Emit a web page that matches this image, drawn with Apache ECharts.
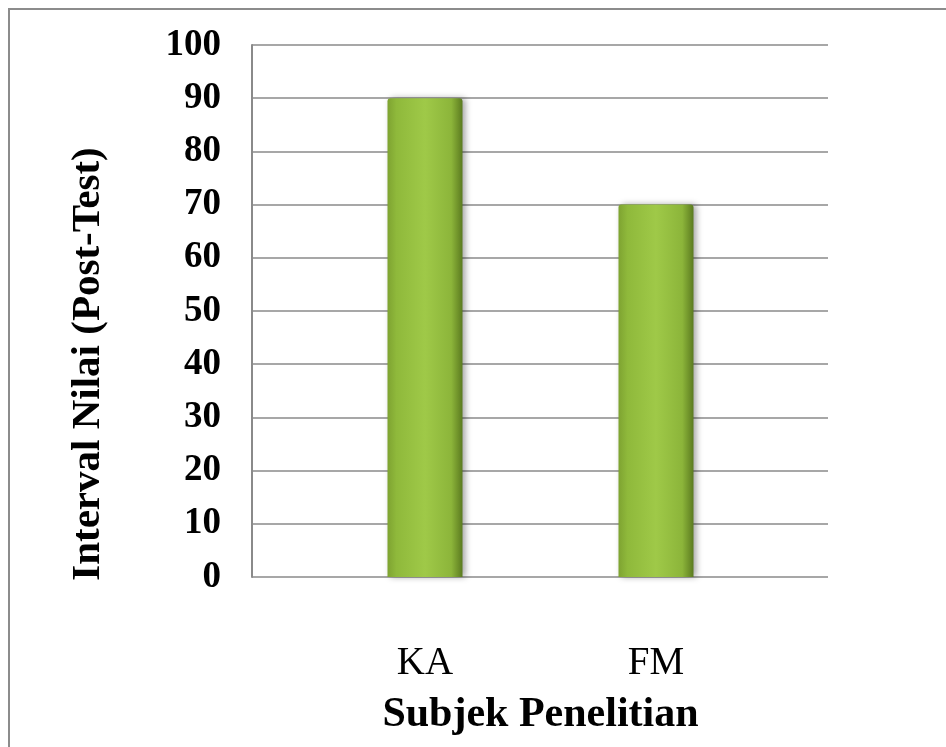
<!DOCTYPE html>
<html>
<head>
<meta charset="utf-8">
<script src="https://cdn.jsdelivr.net/npm/echarts@6/dist/echarts.min.js"></script>
<style>
  html, body { margin: 0; padding: 0; background: #fff; }
  #chart { width: 946px; height: 747px; }
</style>
</head>
<body>
<div id="chart"></div>
<script>
// Post-test scores per research subject
const categories = ['KA', 'FM'];
const scores = [90, 70];
const yTicks = { min: 0, max: 100, step: 10 };
const yTitle = 'Interval Nilai (Post-Test)';
const xTitle = 'Subjek Penelitian';

const serif = '"Liberation Serif", "Times New Roman", serif';
const gridColor = '#8a8a8a';

const chart = echarts.init(document.getElementById('chart'));

const barFill = new echarts.graphic.LinearGradient(0, 0, 1, 0, [
  { offset: 0, color: '#7ea331' },
  { offset: 0.12, color: '#8fb93b' },
  { offset: 0.5, color: '#9fc948' },
  { offset: 0.85, color: '#8cb53a' },
  { offset: 0.94, color: '#6f922a' },
  { offset: 1, color: '#5a7a20' }
]);

chart.setOption({
  animation: false,
  backgroundColor: '#ffffff',
  graphic: [
    {
      type: 'rect',
      shape: { x: 9, y: 9, width: 1000, height: 1000 },
      style: { fill: 'none', stroke: '#8c8c8c', lineWidth: 2 },
      silent: true
    },
    {
      // vertical value-axis title
      type: 'text',
      x: 88, y: 364,
      rotation: Math.PI / 2,
      style: {
        text: yTitle,
        fontFamily: serif, fontSize: 41, fontWeight: 'bold', fill: '#000',
        align: 'center', verticalAlign: 'middle'
      },
      silent: true
    }
  ],
  grid: [
    // frame with gridlines and value labels
    { left: 252, top: 45, width: 576, height: 532 },
    // bars sit in the middle part of the frame
    { left: 309.5, top: 45, width: 462, height: 532 }
  ],
  xAxis: [
    {
      gridIndex: 0, type: 'category', data: categories,
      axisLine: { show: false }, axisTick: { show: false },
      axisLabel: { show: false }, splitLine: { show: false }
    },
    {
      gridIndex: 1, type: 'category', data: categories,
      axisLine: { show: false }, axisTick: { show: false },
      axisLabel: {
        fontFamily: serif, fontSize: 39, color: '#000', margin: 67
      },
      name: xTitle, nameLocation: 'middle', nameGap: 117,
      nameTextStyle: { fontFamily: serif, fontSize: 42, fontWeight: 'bold', color: '#000' }
    }
  ],
  yAxis: [
    {
      gridIndex: 0, type: 'value',
      min: yTicks.min, max: yTicks.max, interval: yTicks.step,
      axisLine: { show: true, lineStyle: { color: gridColor, width: 2 } },
      axisTick: { show: false },
      axisLabel: {
        fontFamily: serif, fontSize: 37, fontWeight: 'bold', color: '#000', margin: 31
      },
      splitLine: { show: true, lineStyle: { color: gridColor, width: 1.6 } }
    },
    {
      gridIndex: 1, type: 'value',
      min: yTicks.min, max: yTicks.max, interval: yTicks.step,
      show: false, splitLine: { show: false }
    }
  ],
  series: [{
    type: 'bar',
    xAxisIndex: 1, yAxisIndex: 1,
    data: scores,
    barWidth: 75,
    itemStyle: {
      color: barFill,
      borderRadius: [3, 3, 0, 0],
      shadowColor: 'rgba(0,0,0,0.35)',
      shadowBlur: 6,
      shadowOffsetX: 3
    }
  }]
});
</script>
</body>
</html>
